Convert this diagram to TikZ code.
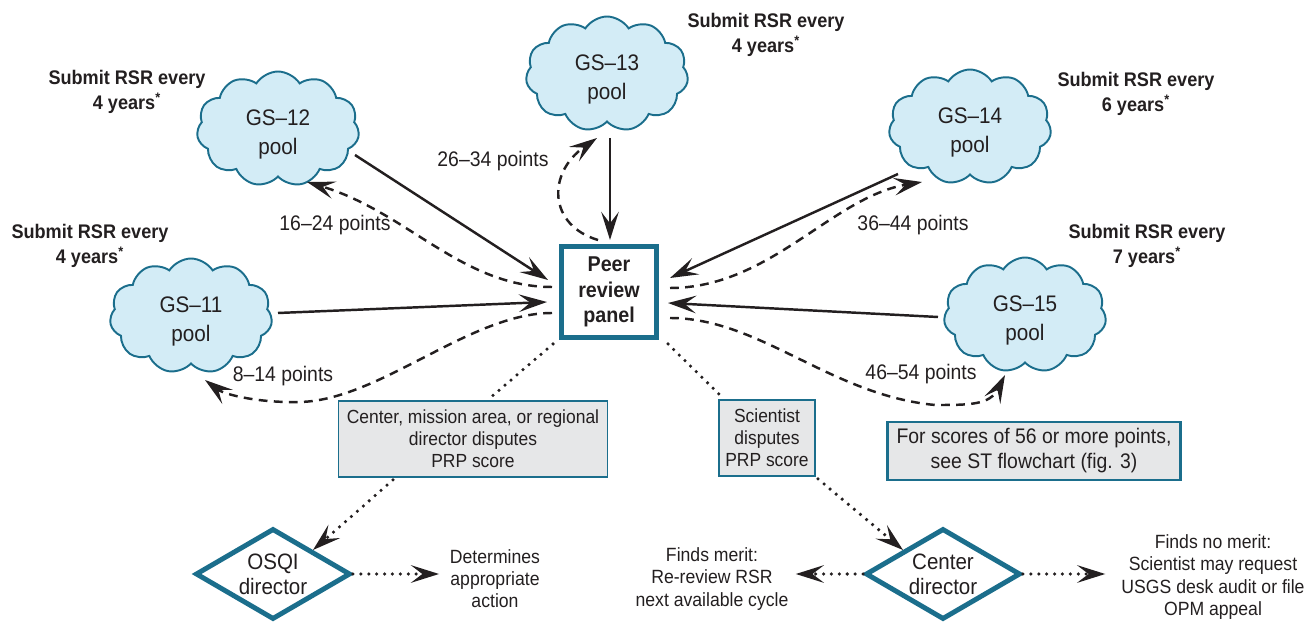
\documentclass[tikz,border=0pt]{standalone}
\usepackage{fontspec}
\setmainfont[FakeStretch=0.92]{Liberation Sans}
\usetikzlibrary{shapes.symbols,shapes.geometric,arrows.meta,calc}
\definecolor{usgsteal}{RGB}{27,110,140}
\definecolor{cloudfill}{RGB}{211,236,246}
\definecolor{boxfill}{RGB}{230,231,232}
\definecolor{txt}{RGB}{35,31,32}
\newcommand{\pooltxt}[1]{\rule{0pt}{15.5pt}#1\\pool}
\begin{document}
\begin{tikzpicture}[x=0.02cm,y=-0.02cm,
  pool/.style={cloud, cloud puffs=11, cloud puff arc=115, cloud ignores aspect,
    draw=usgsteal, line width=1.1pt, fill=cloudfill,
    minimum width=3.25cm, minimum height=2.3cm, inner sep=0pt,
    align=center, text=txt, font=\fontsize{12.8}{16.6}\selectfont},
  sub/.style={align=center, text=txt, inner sep=0pt, font=\bfseries\fontsize{11.2}{14.2}\selectfont},
  pts/.style={text=txt, inner sep=0pt, font=\fontsize{12}{14}\selectfont},
  gbox/.style={draw=usgsteal, fill=boxfill, line width=1.1pt, align=center, text=txt,
    inner sep=0pt, font=\fontsize{10.8}{12.5}\selectfont},
  dia/.style={diamond, aspect=1.7, draw=usgsteal, line width=2.8pt, fill=white,
    minimum width=3.1cm, minimum height=1.82cm, inner sep=0pt, align=center, text=txt,
    font=\fontsize{12.7}{14.2}\selectfont},
  note/.style={align=center, text=txt, inner sep=0pt, font=\fontsize{10.9}{12.6}\selectfont},
  tipstyle/.style={-{Stealth[length=16pt,width=10pt,inset=6.5pt]}},
  solidarr/.style={tipstyle, line width=1.4pt, draw=txt},
  dasharr/.style={tipstyle, line width=1.4pt, draw=txt, dash pattern=on 5pt off 3.6pt},
  dotline/.style={line width=2pt, draw=txt, line cap=round, dash pattern=on 0pt off 4.5pt},
  dotarr/.style={dotline, tipstyle}
]
\useasboundingbox (0,0) rectangle (1312,624);

% pools
\node[pool] (gs13) at (607,74) {\pooltxt{GS–13}};
\node[pool] (gs12) at (278,129) {\pooltxt{GS–12}};
\node[pool] (gs11) at (191,316) {\pooltxt{GS–11}};
\node[pool] (gs14) at (970,127) {\pooltxt{GS–14}};
\node[pool] (gs15) at (1025,315) {\pooltxt{GS–15}};

% submit labels
\node[sub] (s13) at (766,35) {Submit RSR every\\4 years\textsuperscript{*}};
\node[sub] (s12) at (127,92) {Submit RSR every\\4 years\textsuperscript{*}};
\node[sub] (s11) at (90,246) {Submit RSR every\\4 years\textsuperscript{*}};
\node[sub] (s14) at (1136,94) {Submit RSR every\\6 years\textsuperscript{*}};
\node[sub] (s15) at (1147,246) {Submit RSR every\\7 years\textsuperscript{*}};

% panel
\node[draw=usgsteal, line width=2.8pt, minimum width=1.9cm, minimum height=1.82cm,
  inner sep=0pt, align=center, text=txt, font=\bfseries\fontsize{12.2}{14.7}\selectfont]
  (peer) at (609,292) {Peer\\review\\panel};

% points labels
\node[pts] (p13) at (493,161) {26–34 points};
\node[pts] (p12) at (335,225) {16–24 points};
\node[pts] (p11) at (283,376) {8–14 points};
\node[pts] (p14) at (913,225) {36–44 points};
\node[pts] (p15) at (921,374) {46–54 points};

% boxes
\node[gbox, minimum width=5.38cm, minimum height=1.52cm] (cmbox) at (473,439)
  {Center, mission area, or regional\\director disputes\\PRP score};
\node[gbox, minimum width=1.92cm, minimum height=1.52cm] (scibox) at (767,438)
  {Scientist\\disputes\\PRP score};
\node[gbox, line width=1.6pt, minimum width=5.86cm, minimum height=1.16cm,
  font=\fontsize{12}{14.2}\selectfont] (scores) at (1034,451)
  {For scores of 56 or more points,\\see ST flowchart (fig. 3)};

% diamonds
\node[dia] (osqi) at (273,574) {OSQI\\director};
\node[dia] (cdir) at (943,574) {Center\\director};

% outcome notes
\node[note] (determ) at (495,579) {Determines\\appropriate\\action};
\node[note] (merit) at (712,579) {Finds merit:\\Re-review RSR\\next available cycle};
\node[note] (nomerit) at (1213,577) {Finds no merit:\\Scientist may request\\USGS desk audit or file\\OPM appeal};

% solid arrows pools -> panel
\draw[solidarr] ($(gs13)+(3,64)$) -- ($(peer)+(1,-52)$);
\draw[solidarr] ($(gs12)+(77,26)$) -- ($(peer)+(-61,-12)$);
\draw[solidarr] ($(gs11)+(87,-3)$) -- ($(peer)+(-62,10)$);
\draw[solidarr] ($(gs14)+(-72,47)$) -- ($(peer)+(61,-14)$);
\draw[solidarr] ($(gs15)+(-87,2)$) -- ($(peer)+(59,11)$);

% dashed arrows panel -> pools
\draw[dasharr] ($(peer)+(-11,-52)$) .. controls +(-50,-15) and +(-50,35) .. ($(gs13)+(-10,64)$);
\draw[dasharr] ($(peer)+(-57,-5)$) .. controls +(-90,0) and +(100,30) .. ($(gs12)+(29,53)$);
\draw[dasharr] ($(peer)+(-57,21)$) .. controls +(-82,0) and +(80,-2) .. ($(gs11)+(109,86)$)
  .. controls +(-40,1) and +(20,15) .. ($(gs11)+(14,64)$);
\draw[dasharr] ($(peer)+(61,-4)$) .. controls +(100,0) and +(-90,15) .. ($(gs14)+(-48,55)$);
\draw[dasharr] ($(peer)+(61,26)$) .. controls +(90,0) and +(-105,-10) .. ($(gs15)+(-90,90)$)
  .. controls +(35,0) and +(-15,30) .. ($(gs15)+(-20,60)$);

% dotted connectors
\draw[dotline] ($(peer)+(-56,52)$) -- ($(cmbox.north)+(17,-2)$);
\draw[dotarr] ($(cmbox.south)+(-80,2)$) -- (osqi.north east);
\draw[dotarr, shorten >=6pt] (osqi.east) -- (osqi.east -| determ.west);
\draw[dotline] ($(peer)+(59,52)$) -- ($(scibox.north west)+(4,-2)$);
\draw[dotarr] ($(scibox.south east)+(2,2)$) -- (cdir.north west);
\draw[dotarr, shorten >=4pt] (cdir.west) -- (cdir.west -| merit.east);
\draw[dotarr, shorten >=9pt] (cdir.east) -- (cdir.east -| nomerit.west);
\end{tikzpicture}
\end{document}
